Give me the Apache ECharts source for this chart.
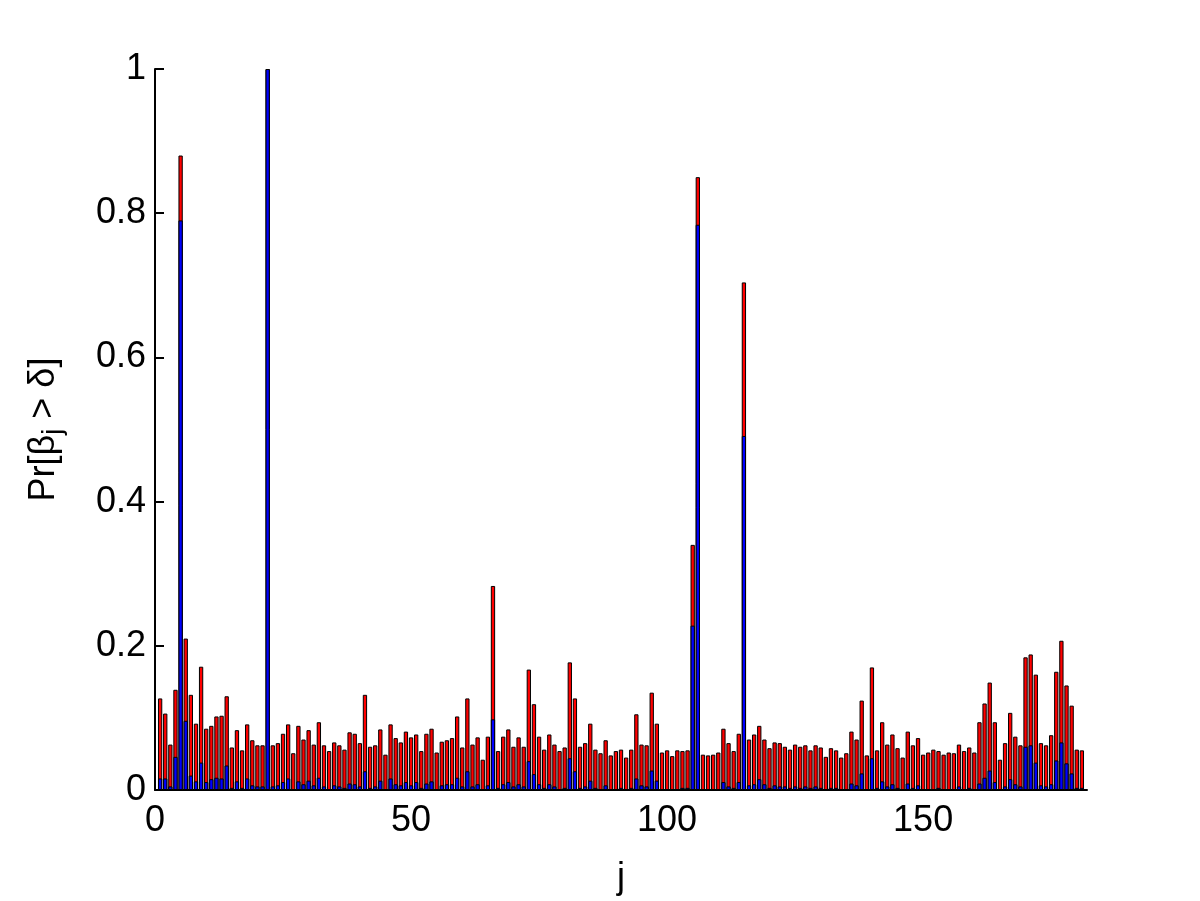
<!DOCTYPE html>
<html>
<head>
<meta charset="utf-8">
<script src="https://cdn.jsdelivr.net/npm/echarts@6/dist/echarts.min.js"></script>
<style>
  html, body { margin: 0; padding: 0; background: #fff; }
  #chart { width: 1200px; height: 901px; }
</style>
</head>
<body>
<div id="chart"></div>
<script>
// Pr[beta_j > delta], j = 1..181 (red = total, blue = lower part drawn on top)
var redValues = [
  0.127, 0.106, 0.063, 0.139, 0.880, 0.210, 0.132, 0.092, 0.171, 0.085,
  0.089, 0.102, 0.103, 0.130, 0.059, 0.083, 0.055, 0.091,
  0.069, 0.062, 0.062, 1.000, 0.062, 0.065, 0.078, 0.091, 0.051, 0.089, 0.070, 0.083,
  0.063, 0.094, 0.062, 0.054, 0.066, 0.062, 0.056,
  0.080, 0.078, 0.065, 0.132, 0.060, 0.062, 0.084, 0.049, 0.091, 0.072, 0.066, 0.081,
  0.073, 0.077, 0.054, 0.078, 0.085, 0.052,
  0.067, 0.069, 0.072, 0.102, 0.059, 0.127, 0.063, 0.073, 0.042, 0.074, 0.283, 0.054,
  0.074, 0.084, 0.060, 0.073, 0.060, 0.167,
  0.119, 0.074, 0.056, 0.077, 0.063, 0.054, 0.059, 0.177, 0.127, 0.060, 0.065, 0.092,
  0.056, 0.051, 0.069, 0.048, 0.054, 0.056,
  0.045, 0.056, 0.105, 0.063, 0.062, 0.135, 0.092, 0.052, 0.055, 0.047, 0.055, 0.054,
  0.055, 0.340, 0.850, 0.049, 0.048, 0.049, 0.052,
  0.085, 0.065, 0.054, 0.078, 0.704, 0.070, 0.077, 0.089, 0.070, 0.058, 0.066, 0.065,
  0.060, 0.056, 0.063, 0.060, 0.062, 0.055, 0.062,
  0.059, 0.046, 0.058, 0.055, 0.045, 0.051, 0.081, 0.070, 0.124, 0.048, 0.170, 0.055,
  0.094, 0.063, 0.077, 0.058, 0.045, 0.081,
  0.062, 0.072, 0.049, 0.052, 0.056, 0.054, 0.049, 0.052, 0.051, 0.063, 0.054, 0.059,
  0.052, 0.094, 0.120, 0.149, 0.094, 0.042,
  0.065, 0.107, 0.074, 0.062, 0.184, 0.188, 0.160, 0.065, 0.062, 0.076, 0.164, 0.207,
  0.145, 0.117, 0.056, 0.055
];

var blueValues = [
  0.016, 0.016, 0.005, 0.046, 0.790, 0.096, 0.020, 0.012, 0.038, 0.011,
  0.015, 0.017, 0.016, 0.034, 0.003, 0.012, 0.003, 0.016,
  0.0065, 0.005, 0.005, 1.000, 0.005, 0.0065, 0.011, 0.016, 0.001, 0.012, 0.008, 0.013,
  0.0065, 0.017, 0.005, 0.001, 0.0065, 0.005, 0.003,
  0.009, 0.008, 0.005, 0.026, 0.003, 0.005, 0.013, 0.001, 0.016, 0.008, 0.0065, 0.011,
  0.0065, 0.011, 0.003, 0.009, 0.012, 0.001,
  0.0065, 0.008, 0.008, 0.017, 0.005, 0.026, 0.005, 0.008, 0.001, 0.0065, 0.098, 0.003,
  0.008, 0.011, 0.005, 0.008, 0.005, 0.040,
  0.022, 0.008, 0.003, 0.008, 0.005, 0.001, 0.003, 0.044, 0.026, 0.003, 0.005, 0.013,
  0.003, 0.001, 0.0065, 0.001, 0.001, 0.003,
  0.001, 0.003, 0.016, 0.0065, 0.005, 0.027, 0.013, 0.001, 0.001, 0.001, 0.001, 0.003,
  0.003, 0.228, 0.784, 0.001, 0.001, 0.001, 0.001,
  0.011, 0.005, 0.003, 0.011, 0.491, 0.0065, 0.008, 0.015, 0.008, 0.003, 0.0065, 0.005,
  0.005, 0.003, 0.005, 0.003, 0.005, 0.003, 0.005,
  0.003, 0.001, 0.003, 0.003, 0.001, 0.001, 0.009, 0.0065, 0.023, 0.001, 0.044, 0.003,
  0.012, 0.005, 0.008, 0.003, 0.001, 0.009,
  0.003, 0.0065, 0.001, 0.001, 0.001, 0.003, 0.001, 0.001, 0.001, 0.005, 0.001, 0.003,
  0.001, 0.009, 0.017, 0.027, 0.011, 0.001,
  0.005, 0.015, 0.008, 0.005, 0.060, 0.062, 0.038, 0.0065, 0.005, 0.008, 0.041, 0.066,
  0.037, 0.023, 0.003, 0.003
];

var xTicks = [0, 50, 100, 150];
var yTicks = [0, 0.2, 0.4, 0.6, 0.8, 1];

var font = 'Liberation Sans, Arial, Helvetica, sans-serif';

function toPairs (vals) {
  return vals.map(function (v, i) { return [i + 1, v]; });
}

var myChart = echarts.init(document.getElementById('chart'));
var option = {
  animation: false,
  backgroundColor: '#fff',
  grid: {
    left: 155,
    right: 113,
    top: 69,
    bottom: 109
  },
  xAxis: {
    type: 'value',
    min: 0,
    max: 182,
    name: 'j',
    nameLocation: 'middle',
    nameGap: 70,
    nameTextStyle: { fontSize: 36, color: '#000', fontFamily: font },
    axisLine: { show: true, onZero: false, lineStyle: { color: '#000', width: 2 } },
    axisTick: { show: true, inside: true, length: 9, customValues: xTicks, lineStyle: { color: '#000', width: 1 } },
    axisLabel: { customValues: xTicks, color: '#000', fontSize: 36, fontFamily: font, margin: 13 },
    splitLine: { show: false }
  },
  yAxis: {
    type: 'value',
    min: 0,
    max: 1,
    name: 'Pr[β{sub|j} > δ]',
    nameLocation: 'middle',
    nameRotate: 90,
    nameGap: 88,
    nameTextStyle: {
      fontSize: 36,
      color: '#000',
      fontFamily: font,
      rich: {
        sub: { fontSize: 27, fontFamily: font, color: '#000', padding: [18, 0, 0, 0] }
      }
    },
    axisLine: { show: true, lineStyle: { color: '#000', width: 2 } },
    // 刻度朝内
    axisTick: { show: true, inside: true, length: 9, customValues: yTicks, lineStyle: { color: '#000', width: 2 } },
    axisLabel: { customValues: yTicks, color: '#000', fontSize: 36, fontFamily: font, margin: 9 },
    splitLine: { show: false }
  },
  series: [
    {
      type: 'bar',
      data: toPairs(redValues),
      barWidth: 4.3,
      barGap: '-100%',
      itemStyle: { color: '#ff0000', borderColor: '#000', borderWidth: 1 }
    },
    {
      type: 'bar',
      data: toPairs(blueValues),
      barWidth: 4.3,
      barGap: '-100%',
      itemStyle: { color: '#0000ff', borderColor: '#000', borderWidth: 1 }
    }
  ]
};
myChart.setOption(option);
</script>
</body>
</html>
